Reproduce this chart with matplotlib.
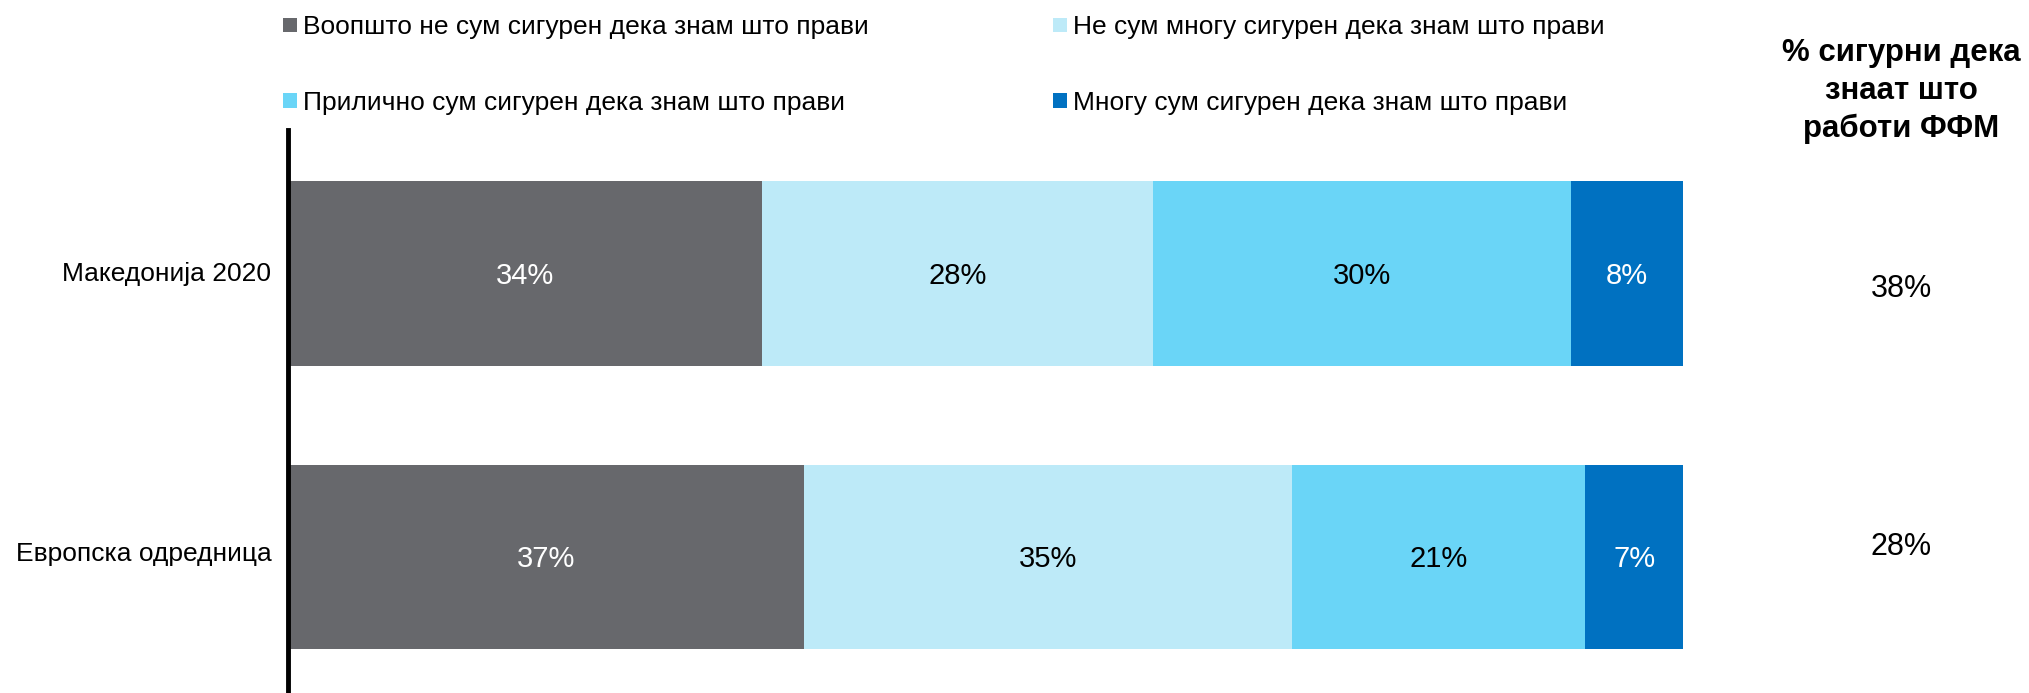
import numpy as np
import matplotlib.pyplot as plt
from matplotlib.patches import Rectangle

plt.rcParams['font.family'] = ['Liberation Sans', 'DejaVu Sans']

# ---------------- data ----------------
categories = ['Македонија 2020', 'Европска одредница']
series_names = [
    'Воопшто не сум сигурен дека знам што прави',
    'Не сум многу сигурен дека знам што прави',
    'Прилично сум сигурен дека знам што прави',
    'Многу сум сигурен дека знам што прави',
]
values = [
    [34, 37],
    [28, 35],
    [30, 21],
    [8, 7],
]
sure_pct = [38, 28]
side_title = '% сигурни дека\nзнаат што\nработи ФФМ'

colors = ['#67686c', '#bdeaf8', '#6ad5f7', '#0071c1']
label_colors = ['white', 'black', 'black', 'white']

CAP = 0.716  # cap height / em, used to centre text on its capitals


def cap_text(ax, x, y, s, fs, transform, dx=0, **kw):
    # place text so that the middle of the capitals sits on (x, y)
    return ax.annotate(s, xy=(x, y), xycoords=transform,
                       xytext=(dx, -CAP * fs / 2), textcoords='offset points',
                       va='baseline', fontsize=fs, annotation_clip=False, **kw)


# ---------------- figure ----------------
W, H = 2029, 693
fig = plt.figure(figsize=(W / 100, H / 100), dpi=100)
ax = fig.add_axes([288 / W, 0, (1683 - 288) / W, (H - 130) / H])

y = np.arange(len(categories))
left = np.zeros(len(categories))
for name, vals, c, lc in zip(series_names, values, colors, label_colors):
    vals = np.array(vals, dtype=float)
    ax.barh(y, vals, left=left, height=0.652, color=c, label=name)
    for yi, l, v in zip(y, left, vals):
        cap_text(ax, l + v / 2, yi, f'{v:.0f}%', 21, ax.transData,
                 ha='center', color=lc)
    left += vals

ax.set_xlim(0, 100)
ax.set_ylim(1.4797, -0.506)
ax.set_yticks([])
ax.set_xticks([])
for s in ['top', 'right', 'bottom']:
    ax.spines[s].set_visible(False)
ax.spines['left'].set_linewidth(3.5)
ax.spines['left'].set_color('black')

# category labels
for yi, cat in zip([-0.005, -0.018 + 1], categories):
    cap_text(ax, 0, yi, cat, 19, ax.get_yaxis_transform(), dx=-12, ha='right')

# right-hand column: % sure
for yi, p in zip([0.044, 0.955], sure_pct):
    cap_text(ax, 1.1566, yi, f'{p}%', 22, ax.get_yaxis_transform(), ha='center')
fig.text(1901 / W, 1 - 91 / H, side_title, ha='center', va='center',
         fontsize=22.5, fontweight='bold', linespacing=1.35)

# legend, laid out in two rows like the original
leg_pos = [(283, 25), (1053, 25), (283, 100.5), (1053, 100.5)]
for (px, py), name, c in zip(leg_pos, series_names, colors):
    sq = 14
    fig.add_artist(Rectangle((px / W, 1 - (py + sq / 2) / H), sq / W, sq / H,
                             transform=fig.transFigure, color=c, lw=0))
    cap_text(ax, (px + 20) / W, 1 - py / H, name, 19, fig.transFigure, ha='left')

fig.savefig('out.png', dpi=100)
